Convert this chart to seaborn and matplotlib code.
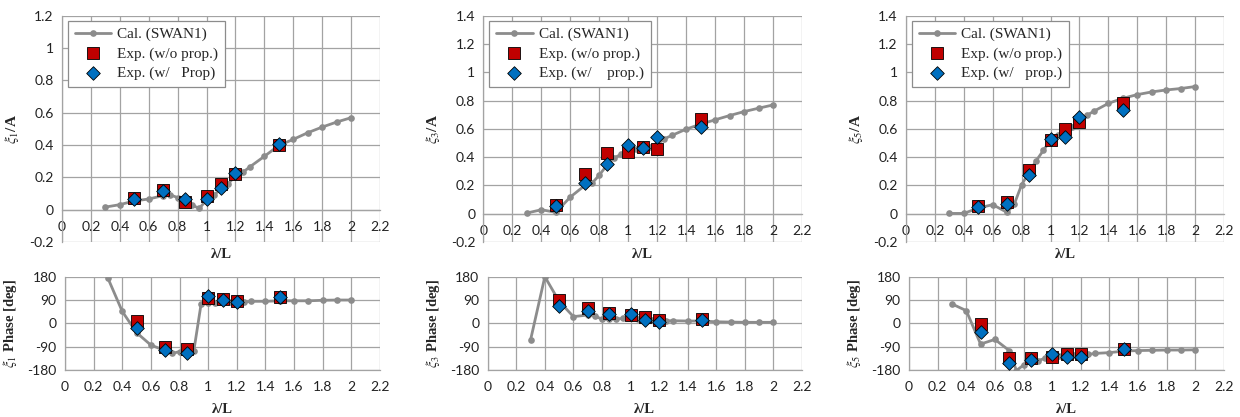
import numpy as np
import pandas as pd
import matplotlib
matplotlib.use("Agg")
import matplotlib.pyplot as plt
from matplotlib.ticker import FuncFormatter, MultipleLocator
import seaborn as sns

# ---------------- data ----------------
x_cal = [0.3, 0.4, 0.5, 0.6, 0.7, 0.75, 0.8, 0.85, 0.9, 0.95, 1.0, 1.05,
         1.1, 1.15, 1.2, 1.25, 1.3, 1.4, 1.5, 1.6, 1.7, 1.8, 1.9, 2.0]
amp1_cal = [0.016, 0.031, 0.054, 0.066, 0.087, 0.091, 0.075, 0.06, 0.028, 0.008, 0.06, 0.089,
            0.13, 0.16, 0.21, 0.23, 0.265, 0.33, 0.397, 0.435, 0.476, 0.511, 0.542, 0.569]
amp3_cal = [0.005, 0.028, 0.01, 0.118, 0.2, 0.216, 0.273, 0.34, 0.393, 0.42, 0.447, 0.456,
            0.468, 0.475, 0.49, 0.53, 0.553, 0.598, 0.633, 0.664, 0.694, 0.722, 0.746, 0.769]
amp5_cal = [0.002, 0.002, 0.04, 0.064, 0.009, 0.07, 0.205, 0.29, 0.374, 0.447, 0.52, 0.558,
            0.588, 0.616, 0.66, 0.695, 0.725, 0.78, 0.816, 0.842, 0.861, 0.875, 0.885, 0.899]
ph1_cal = [174, 46, -36, -84, -105, -116, -109, -110, -105, 73, 77, 80,
           84, 81, 82, 82, 85, 85, 87, 87, 87, 89, 90, 90]
ph3_cal = [-64, 180, 85, 26, 32, 30, 15, 15, 17, 19, 19, 17,
           13, 13, 9, 10, 10, 9, 9, 6, 5, 4, 4, 4]
ph5_cal = [75, 49, -80, -62, -105, -182, -161, -150, -144, -135, -126, -126,
           -126, -122, -122, -120, -116, -113, -107, -105, -104, -103, -103, -102]

x_exp = [0.5, 0.7, 0.85, 1.0, 1.1, 1.2, 1.5]
amp1_wo = [0.07, 0.12, 0.047, 0.083, 0.161, 0.219, 0.40]
amp1_w = [0.068, 0.116, 0.064, 0.066, 0.137, 0.227, 0.404]
amp3_wo = [0.064, 0.282, 0.428, 0.433, 0.475, 0.456, 0.668]
amp3_w = [0.052, 0.216, 0.35, 0.487, 0.463, 0.541, 0.616]
amp5_wo = [0.052, 0.08, 0.31, 0.518, 0.6, 0.647, 0.78]
amp5_w = [0.047, 0.07, 0.275, 0.527, 0.539, 0.682, 0.734]
ph1_wo = [10, -90, -100, 96, 93, 86, 103]
ph1_w = [-19, -103, -113, 107, 91, 81, 103]
ph3_wo = [90, 58, 39, 32, 26, 13, 15]
ph3_w = [67, 48, 36, 35, 13, 4, 13]
ph5_wo = [-3, -135, -135, -131, -118, -120, -99]
ph5_w = [-32, -154, -141, -118, -129, -129, -100]

label_cal = "Cal. (SWAN1)"
label_wo = "Exp. (w/o prop.)"
labels_w = ["Exp. (w/   Prop)", "Exp. (w/    prop.)", "Exp. (w/   prop.)"]
amp_ylabels = [r"$\xi_1$/A", r"$\xi_3$/A", r"$\xi_5$/A"]
ph_ylabels = [r"$\xi_1$ Phase [deg]", r"$\xi_3$ Phase [deg]", r"$\xi_5$ Phase [deg]"]
amp_ymax = [1.2, 1.4, 1.4]
xlabel = "λ/L"

# ---------------- style ----------------
sns.set_style("white")
plt.rcParams["font.family"] = ["Lato", "DejaVu Sans"]
plt.rcParams["mathtext.fontset"] = "stix"

W, H = 1240, 417
fig = plt.figure(figsize=(W / 100, H / 100), dpi=100)

GRID = "#a3a3a3"
LINE = "#8c8c8c"
RED = "#C00000"
BLUE = "#0070C0"
SERIF = ["Liberation Serif", "DejaVu Serif"]


def ax_px(left, right, top, bottom):
    return fig.add_axes([left / W, 1 - bottom / H, (right - left) / W, (bottom - top) / H])


upper_pos = [(62, 380), (483.5, 802), (906, 1224)]
lower_pos = [(65, 380), (487.7, 802), (909, 1224)]
upper_tb = (15.7, 242)
lower_tb = (276.7, 370)

fmt = FuncFormatter(lambda v, p: f"{v:g}")

amp_cal = [amp1_cal, amp3_cal, amp5_cal]
ph_cal = [ph1_cal, ph3_cal, ph5_cal]
amp_wo = [amp1_wo, amp3_wo, amp5_wo]
amp_w = [amp1_w, amp3_w, amp5_w]
ph_wo = [ph1_wo, ph3_wo, ph5_wo]
ph_w = [ph1_w, ph3_w, ph5_w]


def style_axes(ax):
    ax.set_xlim(0, 2.2)
    ax.xaxis.set_major_locator(MultipleLocator(0.2))
    ax.xaxis.set_major_formatter(fmt)
    ax.yaxis.set_major_formatter(fmt)
    ax.grid(True, color=GRID, linewidth=0.9)
    ax.set_axisbelow(True)
    for s in ["top", "right"]:
        ax.spines[s].set_visible(False)
    for s in ["left", "bottom"]:
        ax.spines[s].set_color(GRID)
        ax.spines[s].set_linewidth(0.9)
    ax.tick_params(axis="both", length=0, labelsize=10, colors="#222222")
    ax.tick_params(axis="y", pad=6)
    ax.set_facecolor("white")


def draw(ax, ycal, ywo, yw, lab_w, legend):
    sns.lineplot(x=x_cal, y=ycal, ax=ax, color=LINE, linewidth=2.0, marker="o",
                 markersize=4.8, markeredgewidth=0, label=label_cal if legend else None,
                 legend=False, zorder=3)
    sns.scatterplot(x=x_exp, y=ywo, ax=ax, marker="s", s=70, color=RED,
                    edgecolor="black", linewidth=0.6, label=label_wo if legend else None,
                    legend=False, zorder=4)
    sns.scatterplot(x=x_exp, y=yw, ax=ax, marker="D", s=48, color=BLUE,
                    edgecolor="black", linewidth=0.6, label=lab_w if legend else None,
                    legend=False, zorder=5)


for i in range(3):
    # amplitude panel
    l, r = upper_pos[i]
    ax = ax_px(l, r, *upper_tb)
    draw(ax, amp_cal[i], amp_wo[i], amp_w[i], labels_w[i], True)
    style_axes(ax)
    ax.set_ylim(-0.2, amp_ymax[i])
    ax.yaxis.set_major_locator(MultipleLocator(0.2))
    ax.spines["bottom"].set_position(("data", 0))
    ax.tick_params(axis="x", pad=8)
    ax.set_xlabel(xlabel, fontfamily=SERIF, fontweight="bold", fontsize=10.5)
    ax.xaxis.set_label_coords(0.5, -0.025)
    ax.set_ylabel(amp_ylabels[i], fontfamily=SERIF, fontweight="bold", fontsize=11)
    ax.yaxis.set_label_coords(-0.13, 0.5)
    handles, labels = ax.get_legend_handles_labels()
    leg = ax.legend(handles, labels, loc="upper left", bbox_to_anchor=(0.018, 0.978),
                    borderaxespad=0, frameon=True, fancybox=False, framealpha=1,
                    edgecolor="#8c8c8c", prop={"family": SERIF, "size": 11},
                    handlelength=2.4, handletextpad=0.4, labelspacing=0.35,
                    borderpad=0.45)
    leg.get_frame().set_linewidth(0.9)

    # phase panel
    l, r = lower_pos[i]
    ax2 = ax_px(l, r, *lower_tb)
    draw(ax2, ph_cal[i], ph_wo[i], ph_w[i], labels_w[i], False)
    style_axes(ax2)
    ax2.set_ylim(-180, 180)
    ax2.yaxis.set_major_locator(MultipleLocator(90))
    ax2.tick_params(axis="x", pad=8)
    ax2.set_xlabel(xlabel, fontfamily=SERIF, fontweight="bold", fontsize=10.5)
    ax2.xaxis.set_label_coords(0.5, -0.35)
    ax2.set_ylabel(ph_ylabels[i], fontfamily=SERIF, fontweight="bold", fontsize=10.5)
    ax2.yaxis.set_label_coords(-0.145, 0.5)

fig.savefig("out.png", dpi=100, facecolor="white")
